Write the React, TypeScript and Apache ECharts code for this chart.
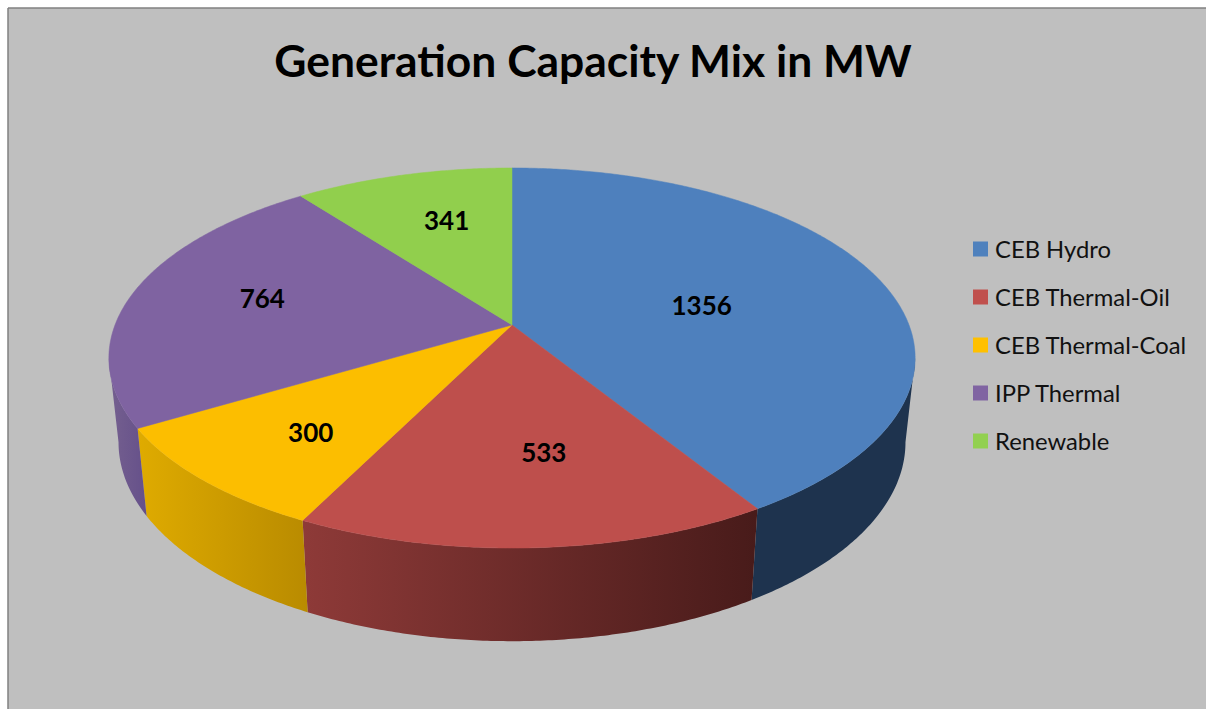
import React, { useEffect, useRef } from "react";
import * as echarts from "echarts";

const titleText = "Generation Capacity Mix in MW";
const categories = ["CEB Hydro", "CEB Thermal-Oil", "CEB Thermal-Coal", "IPP Thermal", "Renewable"];
const capacityMW = [1356, 533, 300, 764, 341];

const topColors = ["#4f81bd", "#c0504d", "#ffc000", "#8064a2", "#92d050"];
const faceColors = ["#4e80bd", "#be4f4c", "#fcbe00", "#7f63a1", "#91cf4d"];
const wallColorsLeft = ["#1e334e", "#8e3a38", "#dfab00", "#75608f", "#6a8f3a"];
const wallColorsRight = ["#1e334e", "#481b1a", "#b98b00", "#65508a", "#6a8f3a"];

// label placement: radial fraction, then a pixel nudge
const labelRadius = [0.506, 0.616, 0.684, 0.66, 0.668];
const labelNudgeX = [1, 19, 1, 2, 11];
const labelNudgeY = [5, 0, 6, -4, 0];

// projection of the pie's plane onto the page
const PERSPECTIVE = 0.1737;
const TOP_FACE = { cx: 512, cy: 325, rx: 397, ry: 184.3 };
const BOTTOM_FACE = { cx: 512, cy: 407.6, rx: 387.5, ry: 193 };
const WALL_FROM = 100;
const WALL_TO = 260;

const total = capacityMW.reduce((a, b) => a + b, 0);
const startAngles = capacityMW.map((_, i) =>
  (capacityMW.slice(0, i).reduce((a, b) => a + b, 0) / total) * 360
);

function project(face: typeof TOP_FACE, deg: number, r = 1): number[] {
  const t = (deg * Math.PI) / 180;
  const u = Math.sin(t) * r;
  const v = Math.cos(t) * r;
  const w = 1 + PERSPECTIVE * v;
  return [face.cx + (face.rx * u) / w, face.cy - (face.ry * v) / w];
}

function arc(face: typeof TOP_FACE, a0: number, a1: number): number[][] {
  const n = Math.max(2, Math.ceil(Math.abs(a1 - a0) * 2));
  const pts: number[][] = [];
  for (let i = 0; i <= n; i++) pts.push(project(face, a0 + ((a1 - a0) * i) / n));
  return pts;
}

function sliceRenderer(index: number) {
  return (_params: any, api: any) => {
    const value = api.value(0);
    const a0 = startAngles[index];
    const a1 = a0 + (value / total) * 360;
    const mid = (a0 + a1) / 2;
    const children: any[] = [];

    const w0 = Math.max(a0, WALL_FROM);
    const w1 = Math.min(a1, WALL_TO);
    if (w1 > w0) {
      const pts = arc(TOP_FACE, w0, w1).concat(arc(BOTTOM_FACE, w1, w0));
      children.push({
        type: "polygon",
        shape: { points: pts },
        style: {
          fill: new echarts.graphic.LinearGradient(0, 0, 1, 0, [
            { offset: 0, color: wallColorsLeft[index] },
            { offset: 1, color: wallColorsRight[index] },
          ]),
        },
      });
    }

    children.push({
      type: "polygon",
      shape: { points: [[TOP_FACE.cx, TOP_FACE.cy], ...arc(TOP_FACE, a0, a1)] },
      style: { fill: faceColors[index], stroke: faceColors[index], lineWidth: 0.5 },
    });

    const p = project(TOP_FACE, mid, labelRadius[index]);
    children.push({
      type: "text",
      z2: 10,
      style: {
        text: String(value),
        x: p[0] + labelNudgeX[index],
        y: p[1] + labelNudgeY[index],
        align: "center",
        verticalAlign: "middle",
        fontFamily: "Lato",
        fontWeight: "bold",
        fontSize: 26,
        fill: "#000000",
      },
    });
    return { type: "group", children };
  };
}

export default function App() {
  const ref = useRef<HTMLDivElement>(null);
  useEffect(() => {
    if (!ref.current) return;
    const chart = echarts.init(ref.current, undefined, { renderer: "svg" });
    chart.setOption({
      animation: false,
      backgroundColor: "#ffffff",
      title: {
        text: titleText,
        left: 588,
        top: 32,
        textAlign: "center",
        textStyle: { fontFamily: "Lato", fontWeight: "bold", fontSize: 44.4, color: "#000000" },
      },
      legend: {
        orient: "vertical",
        left: 973,
        top: 237,
        padding: 0,
        itemWidth: 15,
        itemHeight: 15,
        itemGap: 24,
        icon: "rect",
        data: categories,
        textStyle: {
          fontFamily: "Lato",
          fontSize: 23.8,
          color: "#111111",
          padding: [0, 0, 0, 2],
          height: 18,
          lineHeight: 18,
        },
      },
      graphic: [
        {
          type: "group",
          silent: true,
          z: -1,
          children: [
            { type: "rect", shape: { x: 8, y: 8, width: 1198, height: 701 }, style: { fill: "#bfbfbf" } },
            { type: "line", shape: { x1: 8, y1: 8, x2: 1206, y2: 8 }, style: { stroke: "#808080", lineWidth: 1.5 } },
            { type: "line", shape: { x1: 8, y1: 8, x2: 8, y2: 709 }, style: { stroke: "#808080", lineWidth: 1.5 } },
          ],
        },
      ],
      series: categories.map((name, i) => ({
        type: "custom",
        name,
        coordinateSystem: "none",
        itemStyle: { color: topColors[i] },
        data: [[capacityMW[i]]],
        renderItem: sliceRenderer(i),
        silent: true,
      })),
    });
    return () => chart.dispose();
  }, []);
  return (
    <div
      ref={ref}
      style={{ position: "absolute", left: 0, top: 0, width: 1206, height: 709 }}
    />
  );
}
